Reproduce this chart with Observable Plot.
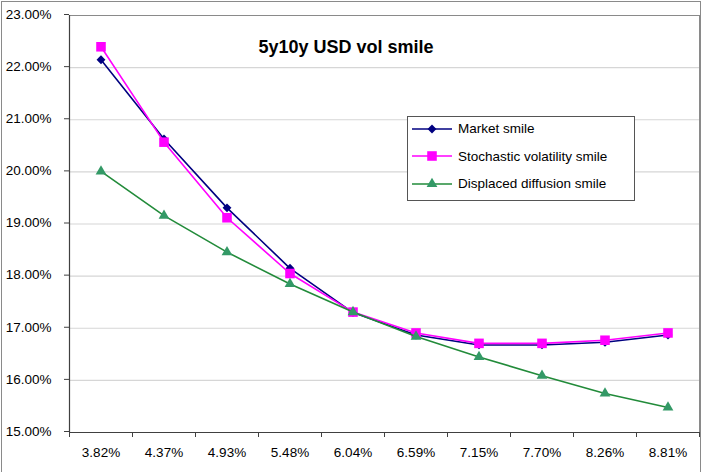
<!DOCTYPE html>
<html>
<head>
<meta charset="utf-8">
<script src="https://cdn.jsdelivr.net/npm/d3@7"></script>
<script src="https://cdn.jsdelivr.net/npm/@observablehq/plot@0.6"></script>
<style>
  html, body { margin: 0; padding: 0; background: #fff; }
  #chart { position: relative; width: 702px; height: 472px; overflow: hidden;
           font-family: "Liberation Sans", Arial, sans-serif; }
  #legend { position: absolute; left: 407px; top: 116px; width: 226px; height: 83px;
            border: 1px solid #555; background: #fff; font-size: 13.5px; color: #000; }
  #legend .row { position: absolute; left: 4px; height: 20px; display: flex; align-items: center; }
  #legend svg { display: block; margin-right: 5px; }
</style>
</head>
<body>
<div id="chart"></div>
<script>
// Strike levels along the x axis
const strikes = ["3.82%", "4.37%", "4.93%", "5.48%", "6.04%", "6.59%", "7.15%", "7.70%", "8.26%", "8.81%"];

// Implied volatilities (%) for each smile
const marketSmile    = [22.15, 20.63, 19.31, 18.15, 17.30, 16.87, 16.68, 16.68, 16.73, 16.87];
const stochVolSmile  = [22.40, 20.57, 19.12, 18.05, 17.31, 16.91, 16.71, 16.71, 16.77, 16.91];
const displacedSmile = [20.01, 19.16, 18.46, 17.85, 17.31, 16.84, 16.45, 16.09, 15.75, 15.48];

const yTicks = [15, 16, 17, 18, 19, 20, 21, 22, 23];
const title = "5y10y USD vol smile";

const seriesNames = ["Market smile", "Stochastic volatility smile", "Displaced diffusion smile"];
const series = [
  {name: seriesNames[0], values: marketSmile,    line: "#000080", fill: "#000080", symbol: "diamond2", r: 4},
  {name: seriesNames[1], values: stochVolSmile,  line: "#ff00ff", fill: "#ff00ff", symbol: "square",   r: 5.4},
  {name: seriesNames[2], values: displacedSmile, line: "#228b3a", fill: "#339966", symbol: "triangle", r: 4}
];

const idx = strikes.map((_, i) => i);
const bounds = d3.range(-0.5, strikes.length, 1);

const seriesMarks = series.flatMap(s => {
  const rows = s.values.map((v, i) => ({i, v}));
  return [
    Plot.line(rows, {x: "i", y: "v", stroke: s.line, strokeWidth: 1.6}),
    Plot.dot(rows, {x: "i", y: "v", symbol: () => s.symbol, fill: s.fill, stroke: "none", r: s.r})
  ];
});

const chart = Plot.plot({
  width: 702,
  height: 472,
  marginLeft: 69,
  marginRight: 3,
  marginTop: 15,
  marginBottom: 40,
  style: {fontFamily: "'Liberation Sans', Arial, sans-serif", fontSize: "13.5px", color: "#000", background: "#fff"},
  x: {type: "linear", domain: [-0.5, strikes.length - 0.5], axis: null},
  y: {domain: [15, 23], axis: null},
  symbol: {type: "identity"},
  marks: [
    // outer chart border
    Plot.frame({stroke: "#8a8a8a", insetLeft: -68, insetTop: -14, insetRight: -1, insetBottom: -60}),
    Plot.gridY(yTicks, {stroke: "#d6d6d6", strokeOpacity: 1, strokeWidth: 1.2}),
    // plot area border
    Plot.frame({stroke: "#8a8a8a"}),
    Plot.axisY(yTicks, {tickSize: 5, tickPadding: 13, stroke: "#404040", dy: -1, label: null,
                        tickFormat: d => d.toFixed(2) + "%", fontSize: 13.5}),
    Plot.ruleX([-0.5], {stroke: "#404040", strokeWidth: 1.2}),
    Plot.ruleY([15], {stroke: "#404040", strokeWidth: 1.2}),
    Plot.axisX(bounds, {tickSize: 5, stroke: "#404040", tickFormat: () => "", label: null}),
    Plot.axisX(idx, {tickSize: 0, tickPadding: 15, tickFormat: i => strikes[i], fontSize: 13.5, label: null}),
    ...seriesMarks,
    Plot.text([title], {frameAnchor: "top-left", dx: 276.5, dy: 25, textAnchor: "middle",
                        fontSize: 18, fontWeight: "bold", fill: "#000"})
  ]
});

const root = document.getElementById("chart");
root.appendChild(chart);

// legend box
const legend = document.createElement("div");
legend.id = "legend";
series.forEach((s, k) => {
  const row = document.createElement("div");
  row.className = "row";
  row.style.top = (1.5 + k * 27.7) + "px";
  const sw = d3.create("svg").attr("width", 41).attr("height", 20);
  sw.append("line").attr("x1", 0).attr("x2", 40).attr("y1", 10).attr("y2", 10)
    .attr("stroke", s.line).attr("stroke-width", 1.6);
  const sym = {diamond2: d3.symbolDiamond2, square: d3.symbolSquare, triangle: d3.symbolTriangle}[s.symbol];
  sw.append("path").attr("transform", "translate(20,10)")
    .attr("d", d3.symbol(sym, Math.PI * s.r * s.r)()).attr("fill", s.fill);
  row.appendChild(sw.node());
  const label = document.createElement("span");
  label.textContent = s.name;
  row.appendChild(label);
  legend.appendChild(row);
});
root.appendChild(legend);
</script>
</body>
</html>
